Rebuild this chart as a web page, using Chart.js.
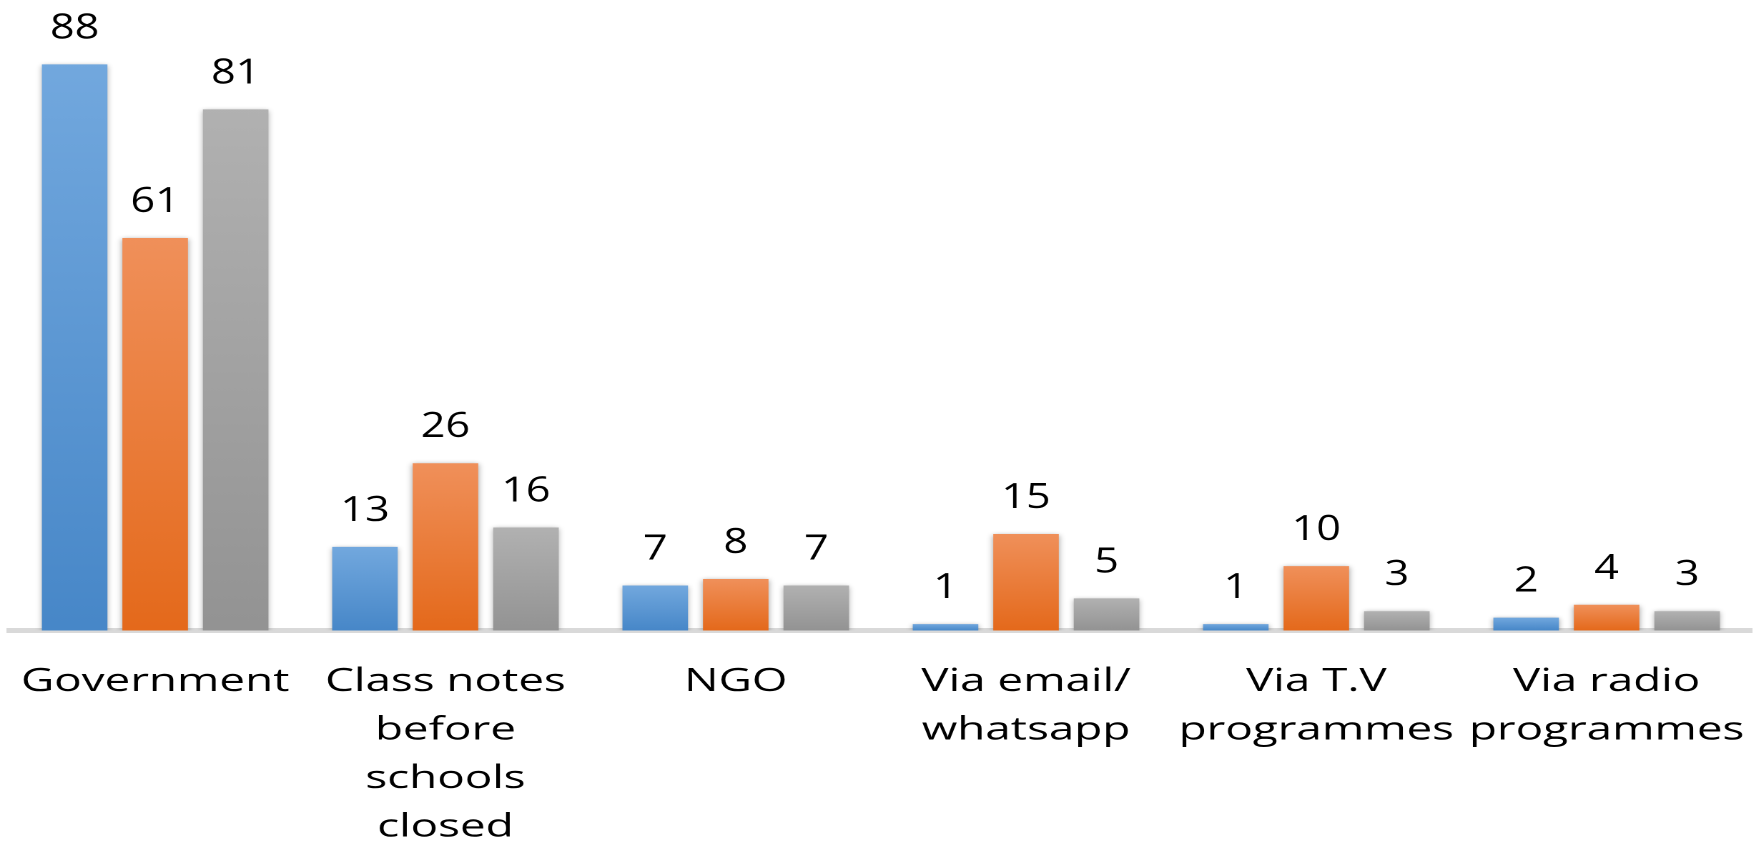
<!DOCTYPE html>
<html>
<head>
<meta charset="utf-8">
<script src="https://cdn.jsdelivr.net/npm/chart.js@4/dist/chart.umd.min.js"></script>
<style>
  html, body { margin: 0; padding: 0; background: #ffffff; overflow: hidden; }
  #wrap { width: 1754px; height: 846px; position: relative; overflow: hidden; }
  #c { position: absolute; left: 0; top: 0; transform-origin: 0 0; }
</style>
</head>
<body>
<div id="wrap"><canvas id="c"></canvas></div>
<script>
// ---- data ----
const categories = [
  ['Government'],
  ['Class notes', 'before', 'schools', 'closed'],
  ['NGO'],
  ['Via email/', 'whatsapp'],
  ['Via T.V', 'programmes'],
  ['Via radio', 'programmes']
];
const seriesNames = ['Series 1', 'Series 2', 'Series 3'];
const series1 = [88, 13, 7, 1, 1, 2];
const series2 = [61, 26, 8, 15, 10, 4];
const series3 = [81, 16, 7, 5, 3, 3];
const yMin = 0;
const yMax = 98;

// ---- layout (the reference picture is horizontally stretched) ----
const STRETCH = 1.43;
const FULL_W = 1754, FULL_H = 846;
const W0 = Math.round(FULL_W / STRETCH);
const canvas = document.getElementById('c');
canvas.width = W0; canvas.height = FULL_H;
canvas.style.width = W0 + 'px'; canvas.style.height = FULL_H + 'px';
canvas.style.transform = 'scaleX(' + STRETCH + ')';

function barGradient(topColor, bottomColor) {
  return function (c) {
    const chart = c.chart;
    const y = chart.scales && chart.scales.y;
    if (!y || c.type !== 'data') return bottomColor;
    const yTop = y.getPixelForValue(c.raw);
    const yBot = y.getPixelForValue(0);
    if (!isFinite(yTop) || !isFinite(yBot) || yTop === yBot) return bottomColor;
    const g = chart.ctx.createLinearGradient(0, yTop, 0, yBot);
    g.addColorStop(0, topColor);
    g.addColorStop(1, bottomColor);
    return g;
  };
}

const shadowPlugin = {
  id: 'barShadow',
  beforeDatasetDraw(chart) {
    const ctx = chart.ctx;
    ctx.save();
    ctx.shadowColor = 'rgba(0,0,0,0.38)';
    ctx.shadowBlur = 9;
    ctx.shadowOffsetX = 0;
    ctx.shadowOffsetY = 2;
  },
  afterDatasetDraw(chart) {
    chart.ctx.restore();
  }
};

const LABEL_SQUEEZE = 0.86;
const valueLabels = {
  id: 'valueLabels',
  afterDatasetsDraw(chart) {
    const ctx = chart.ctx;
    chart.data.datasets.forEach((ds, i) => {
      const meta = chart.getDatasetMeta(i);
      meta.data.forEach((bar, j) => {
        ctx.save();
        ctx.font = '35px "Open Sans"';
        ctx.fillStyle = '#000000';
        ctx.textAlign = 'center';
        ctx.textBaseline = 'alphabetic';
        ctx.translate(bar.x, bar.y - 26);
        ctx.scale(LABEL_SQUEEZE, 1);
        ctx.fillText(String(ds.data[j]), 0, 0);
        ctx.restore();
      });
    });
  }
};

new Chart(canvas, {
  type: 'bar',
  data: {
    labels: categories,
    datasets: [
      { label: seriesNames[0], data: series1, backgroundColor: barGradient('#72a8de', '#4787c8') },
      { label: seriesNames[1], data: series2, backgroundColor: barGradient('#f0905a', '#e4691b') },
      { label: seriesNames[2], data: series3, backgroundColor: barGradient('#b1b1b1', '#939393') }
    ]
  },
  options: {
    responsive: false,
    animation: false,
    devicePixelRatio: 2,
    layout: { padding: { top: 0, left: 7, right: 2, bottom: 0 } },
    datasets: { bar: { categoryPercentage: 0.832, barPercentage: 0.814, borderWidth: 0 } },
    plugins: { legend: { display: false }, tooltip: { enabled: false }, title: { display: false } },
    scales: {
      x: {
        z: 1,
        grid: { display: false, drawTicks: false },
        border: { display: true, color: '#d9d9d9', width: 5 },
        ticks: {
          color: '#000000',
          font: { family: 'Open Sans', size: 32, lineHeight: 1.516 },
          padding: 27,
          autoSkip: false,
          maxRotation: 0,
          minRotation: 0
        },
        afterFit(axis) {
          axis.height = 215.5;
          axis.paddingLeft = 0;
          axis.paddingRight = 0;
        }
      },
      y: {
        display: false,
        min: yMin,
        max: yMax,
        grid: { display: false }
      }
    }
  },
  plugins: [shadowPlugin, valueLabels]
});
</script>
</body>
</html>
